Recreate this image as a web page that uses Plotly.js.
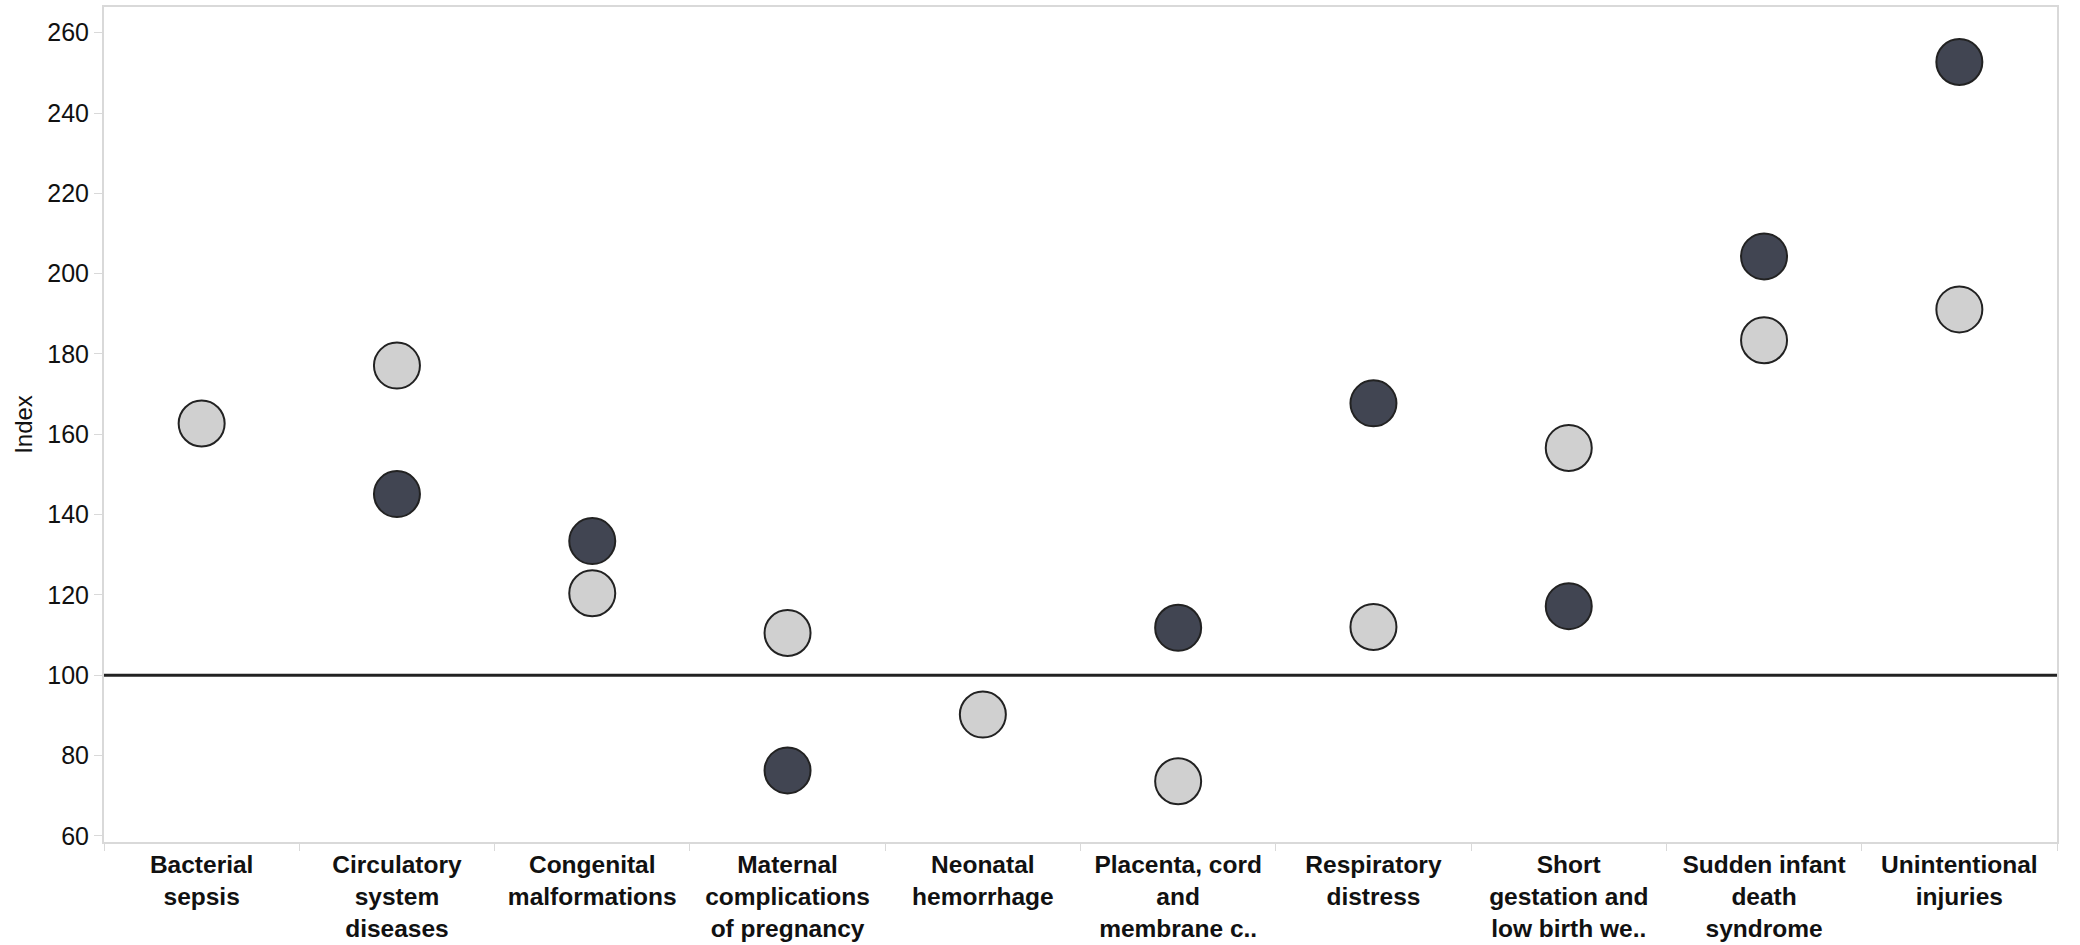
<!DOCTYPE html>
<html>
<head>
<meta charset="utf-8">
<script src="https://cdn.plot.ly/plotly-3.0.1.min.js"></script>
<style>
  html, body { margin: 0; padding: 0; background: #ffffff; }
  #chart { width: 2080px; height: 945px; }
</style>
</head>
<body>
<div id="chart"></div>
<script>
// Categories (cause of death) and their wrapped tick labels
const categories = [
  "Bacterial sepsis",
  "Circulatory system diseases",
  "Congenital malformations",
  "Maternal complications of pregnancy",
  "Neonatal hemorrhage",
  "Placenta, cord and membrane c..",
  "Respiratory distress",
  "Short gestation and low birth we..",
  "Sudden infant death syndrome",
  "Unintentional injuries"
];
const tickLabels = [
  "Bacterial<br>sepsis",
  "Circulatory<br>system<br>diseases",
  "Congenital<br>malformations",
  "Maternal<br>complications<br>of pregnancy",
  "Neonatal<br>hemorrhage",
  "Placenta, cord<br>and<br>membrane c..",
  "Respiratory<br>distress",
  "Short<br>gestation and<br>low birth we..",
  "Sudden infant<br>death<br>syndrome",
  "Unintentional<br>injuries"
];
// Index values (null = not shown)
const lightValues = [162.7, 177.1, 120.4, 110.5, 90.2, 73.6, 112.0, 156.6, 183.4, 191.1];
const darkValues  = [null, 145.1, 133.4, 76.3, null, 111.8, 167.7, 117.2, 204.3, 252.7];
const yTicks = [60, 80, 100, 120, 140, 160, 180, 200, 220, 240, 260];
const referenceIndex = 100;

const markerBase = { size: 46, line: { color: "#222222", width: 2 } };

const traces = [
  {
    type: "scatter", mode: "markers", name: "Light",
    x: categories, y: lightValues,
    marker: Object.assign({}, markerBase, { color: "#d0d0d0" }),
    cliponaxis: false
  },
  {
    type: "scatter", mode: "markers", name: "Dark",
    x: categories, y: darkValues,
    marker: Object.assign({}, markerBase, { color: "#414552" }),
    cliponaxis: false
  }
];

const layout = {
  width: 2080, height: 945,
  margin: { l: 104, r: 23, t: 7, b: 103, pad: 0 },
  paper_bgcolor: "#ffffff", plot_bgcolor: "#ffffff",
  showlegend: false,
  font: { family: "Arial, 'Liberation Sans', sans-serif", color: "#111111" },
  xaxis: {
    type: "category",
    categoryorder: "array", categoryarray: categories,
    range: [-0.5, categories.length - 0.5],
    tickmode: "array", tickvals: categories, ticktext: tickLabels,
    tickson: "boundaries",
    ticks: "outside", ticklen: 7, tickcolor: "#d9d9d9", tickwidth: 1,
    tickfont: { size: 24.5, color: "#111111", family: "Arial, 'Liberation Sans', sans-serif", weight: "bold" },
    showgrid: false, zeroline: false,
    showline: true, linecolor: "#d9d9d9", linewidth: 2, mirror: true,
    automargin: false, fixedrange: true
  },
  yaxis: {
    range: [58.47, 266.4],
    tickmode: "array", tickvals: yTicks,
    ticks: "outside", ticklen: 8, tickcolor: "#d9d9d9", tickwidth: 1,
    tickfont: { size: 25, color: "#111111" },
    showgrid: false, zeroline: false,
    showline: true, linecolor: "#d9d9d9", linewidth: 2, mirror: true,
    title: { text: "Index", font: { size: 24, color: "#111111" }, standoff: 8 },
    automargin: false, fixedrange: true
  },
  shapes: [
    {
      type: "line", xref: "paper", yref: "y",
      x0: 0, x1: 1, y0: referenceIndex, y1: referenceIndex,
      line: { color: "#222222", width: 3 }, layer: "below"
    }
  ]
};

Plotly.newPlot("chart", traces, layout, { displayModeBar: false, staticPlot: true });
</script>
</body>
</html>
